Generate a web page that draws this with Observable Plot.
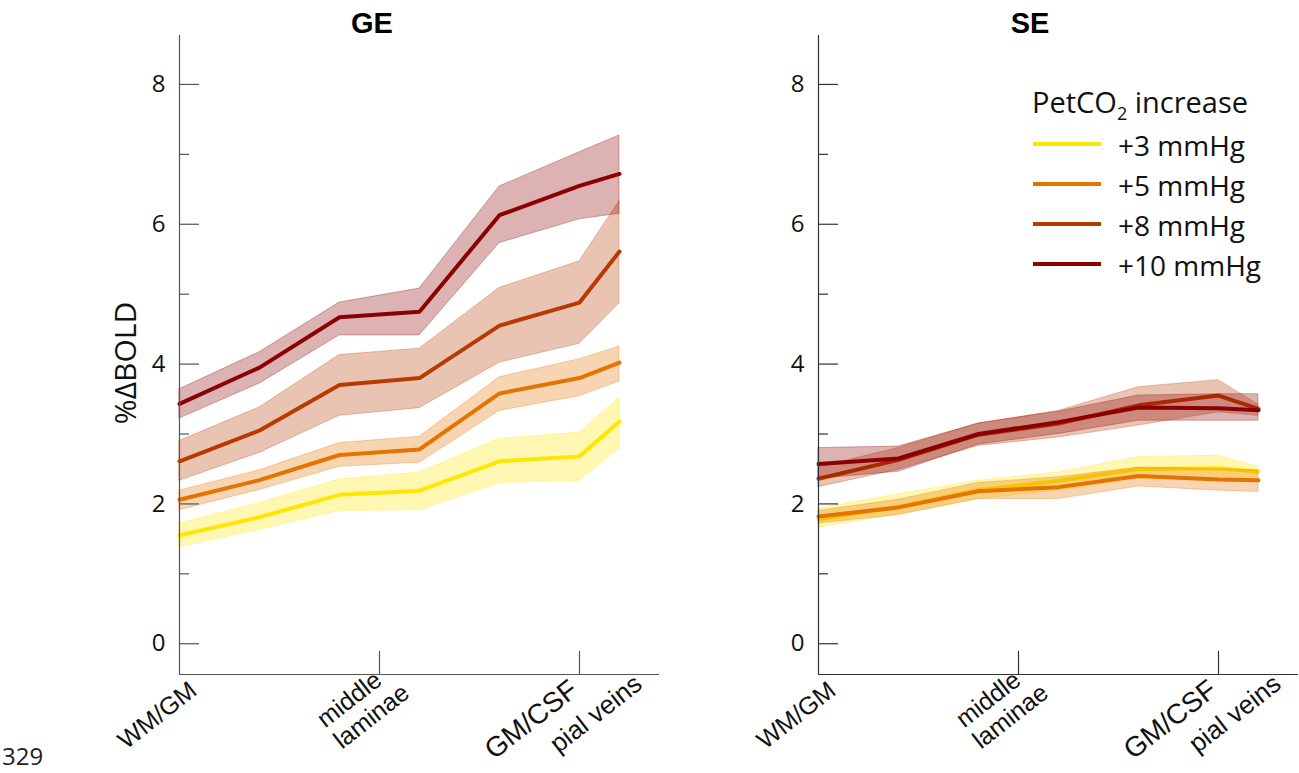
<!DOCTYPE html>
<html>
<head>
<meta charset="utf-8">
<script src="https://cdn.jsdelivr.net/npm/d3@7"></script>
<script src="https://cdn.jsdelivr.net/npm/@observablehq/plot@0.6"></script>
<style>
  body { margin: 0; background: #fff; }
  #root { position: relative; width: 1299px; height: 773px; overflow: hidden; }
  .panel { position: absolute; top: 0; }
  #overlay { position: absolute; left: 0; top: 0; pointer-events: none; }
</style>
</head>
<body>
<div id="root">
  <div id="ge" class="panel" style="left:0px"></div>
  <div id="se" class="panel" style="left:660px"></div>
  <svg id="overlay" width="1299" height="773"></svg>
</div>
<script>
// ---------- data ----------
const depth = [0, 0.2, 0.4, 0.6, 0.8, 1.0, 1.1];
const levels = ["+3 mmHg", "+5 mmHg", "+8 mmHg", "+10 mmHg"];
const colors = ["#FFE600", "#E37400", "#B83A00", "#8B0000"];

// GE (gradient echo) means and shaded bounds
const ge3    = [1.55, 1.81, 2.13, 2.19, 2.61, 2.68, 3.18];
const ge3Lo  = [1.38, 1.63, 1.90, 1.91, 2.30, 2.33, 2.79];
const ge3Hi  = [1.72, 2.01, 2.35, 2.45, 2.93, 3.02, 3.52];
const ge5    = [2.06, 2.34, 2.70, 2.78, 3.58, 3.80, 4.02];
const ge5Lo  = [1.91, 2.20, 2.53, 2.59, 3.33, 3.54, 3.75];
const ge5Hi  = [2.19, 2.48, 2.87, 2.96, 3.81, 4.07, 4.25];
const ge8    = [2.61, 3.05, 3.70, 3.80, 4.55, 4.88, 5.61];
const ge8Lo  = [2.33, 2.73, 3.26, 3.37, 4.02, 4.29, 4.87];
const ge8Hi  = [2.90, 3.38, 4.13, 4.22, 5.09, 5.47, 6.33];
const ge10   = [3.43, 3.95, 4.67, 4.75, 6.13, 6.55, 6.72];
const ge10Lo = [3.22, 3.72, 4.41, 4.41, 5.73, 6.07, 6.15];
const ge10Hi = [3.64, 4.17, 4.88, 5.08, 6.54, 7.03, 7.27];

// SE (spin echo) means and shaded bounds
const se3    = [1.78, 1.96, 2.20, 2.33, 2.50, 2.51, 2.46];
const se3Lo  = [1.66, 1.85, 2.07, 2.19, 2.36, 2.36, 2.38];
const se3Hi  = [1.93, 2.14, 2.33, 2.45, 2.67, 2.69, 2.53];
const se5    = [1.82, 1.95, 2.18, 2.24, 2.40, 2.35, 2.34];
const se5Lo  = [1.72, 1.84, 2.07, 2.07, 2.25, 2.19, 2.17];
const se5Hi  = [1.90, 2.06, 2.30, 2.38, 2.52, 2.50, 2.48];
const se8    = [2.36, 2.63, 2.99, 3.15, 3.41, 3.55, 3.36];
const se8Lo  = [2.24, 2.49, 2.83, 2.95, 3.12, 3.31, 3.26];
const se8Hi  = [2.52, 2.80, 3.15, 3.33, 3.67, 3.77, 3.42];
const se10   = [2.57, 2.65, 3.00, 3.17, 3.38, 3.37, 3.34];
const se10Lo = [2.36, 2.46, 2.85, 3.00, 3.19, 3.19, 3.19];
const se10Hi = [2.80, 2.82, 3.15, 3.32, 3.55, 3.57, 3.57];

// axes
const yMajor = [0, 2, 4, 6, 8];
const yMinor = [1, 3, 5, 7];
const xTicks = [0.5, 1.0];
const xLabelPos  = [0, 0.5, 1.0, 1.1];
const xLabelText = ["WM/GM", "middle\nlaminae", "GM/CSF", "pial veins"];
const panelTitles = ["GE", "SE"];
const yLabel = "%ΔBOLD";
const legendTitle = "PetCO";

// ---------- helpers ----------
const yLo = -0.44, yHi = 8.7;

function rowsFor(sets) {
  const rows = [];
  sets.forEach(([m, lo, hi], k) => {
    depth.forEach((d, i) => rows.push({level: levels[k], k, depth: d, mean: m[i], lo: lo[i], hi: hi[i]}));
  });
  return rows;
}

function panel({rows, marginLeft, width, axisColor, showYLabel}) {
  const seriesMarks = levels.flatMap((lv, k) => {
    const data = rows.filter(r => r.k === k);
    return [
      Plot.areaY(data, {x: "depth", y1: "lo", y2: "hi", fill: colors[k], fillOpacity: 0.3,
        stroke: colors[k], strokeOpacity: 0.3, strokeWidth: 1}),
      Plot.line(data, {x: "depth", y: "mean", stroke: colors[k], strokeWidth: 4, strokeLinejoin: "miter"})
    ];
  });
  const labelFont = "'Liberation Sans', Arial, sans-serif";
  const lab = (i) => xLabelText[i];
  const pos = (i) => xLabelPos[i];
  const rot = -38;
  return Plot.plot({
    width, height: 773,
    marginLeft, marginRight: 1, marginTop: 35, marginBottom: 99,
    x: {domain: [0, 1.2], axis: null},
    y: {domain: [yLo, yHi], axis: null},
    style: {fontFamily: "'Open Sans', sans-serif", fontSize: "24px", background: "transparent", overflow: "visible"},
    marks: [
      ...seriesMarks,
      Plot.ruleX([0], {stroke: axisColor, strokeWidth: 1.2}),
      Plot.ruleY([yLo], {stroke: axisColor, strokeWidth: 1.2}),
      Plot.ruleY(yMajor, {x1: 0, x2: 0.05, stroke: axisColor, strokeWidth: 1.2}),
      Plot.ruleY(yMinor, {x1: 0, x2: 0.025, stroke: axisColor, strokeWidth: 1.2}),
      Plot.ruleX(xTicks, {y1: yLo, y2: yLo + 0.33, stroke: axisColor, strokeWidth: 1.2}),
      Plot.text(yMajor, {x: 0, y: d => d, text: d => String(d), textAnchor: "end", dx: -14, fontSize: 24, fill: "#111"}),
      // WM/GM
      Plot.text([0], {x: pos, y: () => yLo, text: lab, rotate: rot,
        textAnchor: "end", lineAnchor: "top", dx: 8, dy: 5, fontSize: 25, fontFamily: labelFont, fill: "#111"}),
      // middle / laminae
      Plot.text([1], {x: pos, y: () => yLo, text: lab, rotate: rot,
        textAnchor: "start", lineAnchor: "top", dx: -66, dy: 39, fontSize: 25, lineHeight: 1.08, fontFamily: labelFont, fill: "#111"}),
      // GM/CSF
      Plot.text([2], {x: pos, y: () => yLo, text: lab, rotate: rot,
        textAnchor: "end", lineAnchor: "top", dx: -12, dy: 3, fontSize: 28, fontFamily: labelFont, fill: "#111"}),
      // pial veins
      Plot.text([3], {x: pos, y: () => yLo, text: lab, rotate: rot,
        textAnchor: "end", lineAnchor: "top", dx: 13, dy: -2, fontSize: 26, fontFamily: labelFont, fill: "#111"}),
      ...(showYLabel ? [Plot.text([yLabel], {frameAnchor: "left", text: d => d, rotate: -90, dx: -53, dy: 8,
        fontSize: 30, textAnchor: "middle", fill: "#111"})] : [])
    ]
  });
}

const geRows = rowsFor([[ge3, ge3Lo, ge3Hi], [ge5, ge5Lo, ge5Hi], [ge8, ge8Lo, ge8Hi], [ge10, ge10Lo, ge10Hi]]);
const seRows = rowsFor([[se3, se3Lo, se3Hi], [se5, se5Lo, se5Hi], [se8, se8Lo, se8Hi], [se10, se10Lo, se10Hi]]);

document.getElementById("ge").append(panel({rows: geRows, marginLeft: 179, width: 660, axisColor: "#555", showYLabel: true}));
document.getElementById("se").append(panel({rows: seRows, marginLeft: 158, width: 639, axisColor: "#333", showYLabel: false}));

// ---------- titles, legend, page number ----------
const ov = d3.select("#overlay");
const titleX = [372, 1030];
panelTitles.forEach((t, i) => {
  ov.append("text").attr("x", titleX[i]).attr("y", 33).attr("text-anchor", "middle")
    .attr("font-family", "'Liberation Sans', Arial, sans-serif").attr("font-weight", "bold")
    .attr("font-size", 29).attr("fill", "#000").text(t);
});
const lg = ov.append("g").attr("font-family", "'Open Sans', sans-serif").attr("fill", "#111");
const lt = lg.append("text").attr("x", 1032).attr("y", 113).attr("font-size", 29);
lt.append("tspan").text(legendTitle);
lt.append("tspan").attr("font-size", 18).attr("dy", 7).text("2");
lt.append("tspan").attr("dy", -7).text(" increase");
levels.forEach((lv, k) => {
  const y = 144 + 40 * k;
  lg.append("line").attr("x1", 1033).attr("x2", 1101).attr("y1", y).attr("y2", y)
    .attr("stroke", colors[k]).attr("stroke-width", 4);
  lg.append("text").attr("x", 1118).attr("y", y + 12).attr("font-size", 28).text(lv);
});
ov.append("text").attr("x", 2).attr("y", 765).attr("font-family", "'Open Sans', sans-serif")
  .attr("font-size", 24).attr("fill", "#222").text("329");
</script>
</body>
</html>
